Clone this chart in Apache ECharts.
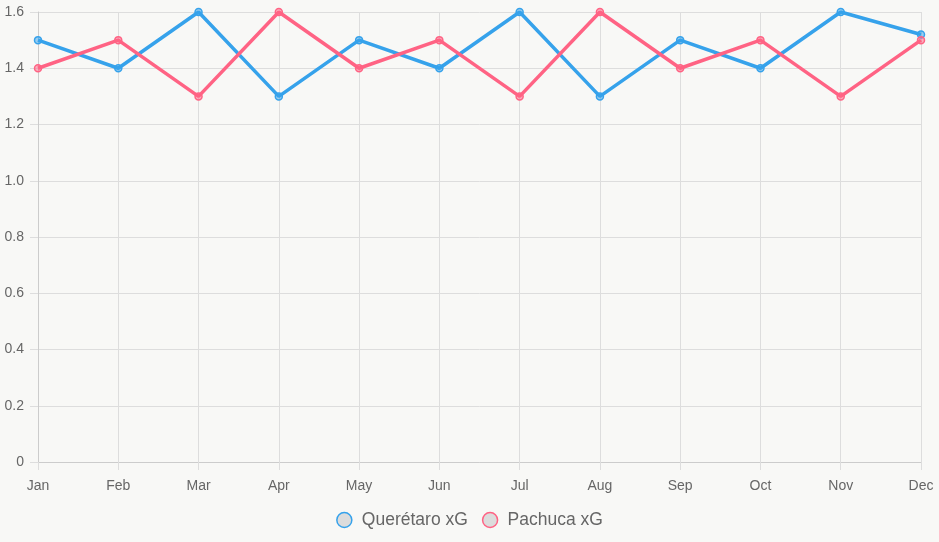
<!DOCTYPE html>
<html>
<head>
<meta charset="utf-8">
<script src="https://cdn.jsdelivr.net/npm/echarts@6/dist/echarts.min.js"></script>
<style>
  html, body { margin: 0; padding: 0; background: #f8f8f6; }
  #chart { width: 939px; height: 542px; }
</style>
</head>
<body>
<div id="chart"></div>
<script>
// data
const months = ['Jan', 'Feb', 'Mar', 'Apr', 'May', 'Jun', 'Jul', 'Aug', 'Sep', 'Oct', 'Nov', 'Dec']
const queretaroXG = [1.5, 1.4, 1.6, 1.3, 1.5, 1.4, 1.6, 1.3, 1.5, 1.4, 1.6, 1.52]
const pachucaXG = [1.4, 1.5, 1.3, 1.6, 1.4, 1.5, 1.3, 1.6, 1.4, 1.5, 1.3, 1.5]

const blue = '#36a2eb'
const pink = '#ff6384'
const gridColor = '#dddddd'
const textColor = '#666666'

const chart = echarts.init(document.getElementById('chart'))

function lineSeries (name, data, color, fill) {
  return {
    name: name,
    type: 'line',
    data: data,
    symbol: 'circle',
    symbolSize: 7,
    showAllSymbol: true,
    lineStyle: { color: color, width: 3.5 },
    itemStyle: { color: fill, borderColor: color, borderWidth: 1.5 },
    emphasis: { disabled: true },
    animation: false
  }
}

chart.setOption({
  backgroundColor: '#f8f8f6',
  textStyle: { fontFamily: 'Liberation Sans, Arial, sans-serif' },
  grid: { left: 38, right: 18, top: 12, bottom: 80 },
  legend: {
    bottom: 8,
    left: 'center',
    icon: 'circle',
    itemWidth: 15,
    itemHeight: 15,
    itemGap: 14,
    textStyle: { color: textColor, fontSize: 17.5, padding: [0, 0, 0, 5] },
    data: [
      { name: 'Querétaro xG', itemStyle: { color: '#dcdcdc', borderColor: blue, borderWidth: 1.5 } },
      { name: 'Pachuca xG', itemStyle: { color: '#dcdcdc', borderColor: pink, borderWidth: 1.5 } }
    ]
  },
  xAxis: {
    type: 'category',
    data: months,
    boundaryGap: false,
    axisLine: { lineStyle: { color: '#cccccc' } },
    axisTick: { show: true, length: 8, lineStyle: { color: gridColor } },
    axisLabel: { color: textColor, fontSize: 14, margin: 17 },
    splitLine: { show: true, lineStyle: { color: gridColor } }
  },
  yAxis: {
    type: 'value',
    min: 0,
    max: 1.6,
    interval: 0.2,
    axisLine: { show: true, lineStyle: { color: '#cccccc' } },
    axisTick: { show: true, length: 8, lineStyle: { color: gridColor } },
    axisLabel: {
      color: textColor,
      fontSize: 14,
      margin: 14,
      formatter: (v) => v === 0 ? '0' : v.toFixed(1)
    },
    splitLine: { show: true, lineStyle: { color: gridColor } }
  },
  series: [
    lineSeries('Querétaro xG', queretaroXG, blue, 'rgba(54, 162, 235, 0.5)'),
    lineSeries('Pachuca xG', pachucaXG, pink, 'rgba(255, 99, 132, 0.5)')
  ]
})
</script>
</body>
</html>
